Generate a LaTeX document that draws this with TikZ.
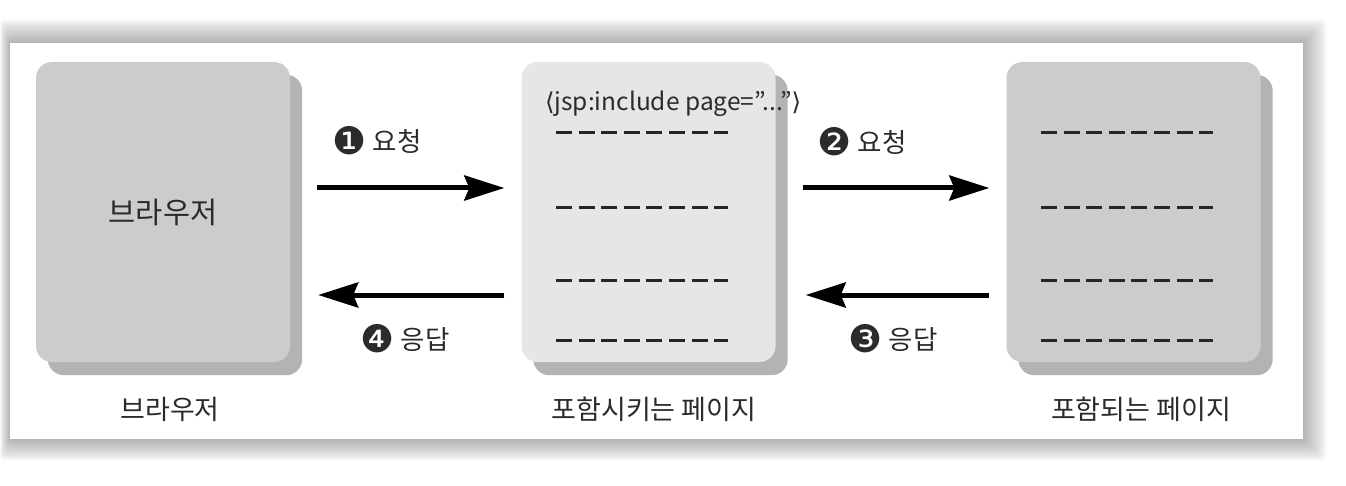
\documentclass[tikz,border=0pt]{standalone}
\usepackage{fontspec}
\setmainfont{Noto Sans CJK KR}
\newfontfamily\djv{DejaVu Sans}
\usetikzlibrary{arrows.meta,backgrounds}
\definecolor{boxgray}{HTML}{CCCCCC}
\definecolor{boxlight}{HTML}{E6E6E6}
\definecolor{shadowgray}{HTML}{B3B3B3}
\definecolor{txt}{HTML}{2B2B2B}
\newcommand{\circnum}[1]{\raisebox{-3pt}{\djv\fontsize{38pt}{40pt}\selectfont #1}}
\tikzset{
  pagebox/.style={rounded corners=16pt, minimum width=254pt, minimum height=300pt, inner sep=0pt, text=txt, font=\fontsize{29.5pt}{34pt}\selectfont},
  dashrow/.style={line width=3pt, draw=black!85, dash pattern=on 16pt off 6.6pt},
  arr/.style={line width=5pt, draw=black, -{Stealth[length=40pt 0 0, width=25pt 0 0, inset=5pt 0 0]}},
  lbl/.style={text=txt, font=\fontsize{26.5pt}{30pt}\selectfont, inner sep=0pt},
  captxt/.style={text=txt, font=\fontsize{27pt}{30pt}\selectfont, inner sep=0pt}
}
\begin{document}
\begin{tikzpicture}[x=1pt,y=-1pt]
\useasboundingbox (0,0) rectangle (1346,486);
% boxes
\node[pagebox, fill=boxgray] (b1) at (163,212) {\raisebox{-4pt}{브라우저}};
\node[pagebox, fill=boxlight] (b2) at (648.5,212) {};
\node[pagebox, fill=boxgray] (b3) at (1133.5,212) {};
% jsp text
\node[anchor=base west, inner sep=0pt, text=txt, font=\fontsize{24.5pt}{28pt}\selectfont] (jsp) at (545,111) {{\djv ⟨}jsp:include page=”...”{\djv ⟩}};
% dashed rows
\foreach \yy in {133,208,281,340} {
  \draw[dashrow] (556,\yy) -- (728,\yy);
  \draw[dashrow] (1041,\yy) -- (1213,\yy);
}
% arrows
\draw[arr, shorten <=27pt, shorten >=17pt] ([yshift=24pt]b1.east) -- ([yshift=24pt]b2.west);
\draw[arr, shorten <=17pt, shorten >=28pt] ([yshift=-83pt]b2.west) -- ([yshift=-83pt]b1.east);
\draw[arr, shorten <=27pt, shorten >=17pt] ([yshift=24pt]b2.east) -- ([yshift=24pt]b3.west);
\draw[arr, shorten <=17pt, shorten >=30pt] ([yshift=-83pt]b3.west) -- ([yshift=-83pt]b2.east);
% arrow labels
\node[lbl] (l1) at (377,141) {\circnum{❶} 요청};
\node[lbl] (l2) at (862,142) {\circnum{❷} 요청};
\node[lbl] (l4) at (405,339) {\circnum{❹} 응답};
\node[lbl] (l3) at (893,339) {\circnum{❸} 응답};
% captions
\node[captxt] (c1) at (170,409) {브라우저};
\node[captxt] (c2) at (654,409) {포함시키는 페이지};
\node[captxt] (c3) at (1141,409) {포함되는 페이지};
\begin{pgfonlayer}{background}
  \foreach \i in {1,...,22} {
    \fill[black, opacity=0.014, rounded corners=4pt] ({10-\i*0.45},{43-\i*1.1}) rectangle ({1303+\i*1.1},{439+\i*1.0});
  }
  \fill[white] (10,43) rectangle (1303,439);
  \foreach \b in {b1,b2,b3} {
    \fill[shadowgray, rounded corners=16pt] ([shift={(12,13)}]\b.south west) rectangle ([shift={(12,13)}]\b.north east);
  }
\end{pgfonlayer}
\end{tikzpicture}
\end{document}
